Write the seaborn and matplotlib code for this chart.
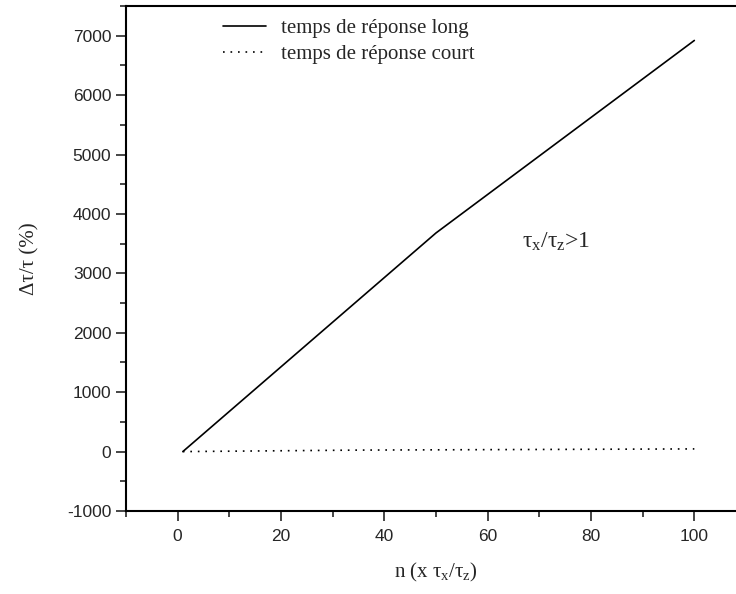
import numpy as np
import pandas as pd
import matplotlib
matplotlib.use('Agg')
import matplotlib.pyplot as plt
import seaborn as sns

# values
n_long = [1, 50, 100]
dt_long = [0, 3680, 6920]
n_court = [1, 35, 100]
dt_court = [0, 25, 45]
series_names = ['temps de réponse long', 'temps de réponse court']

df = pd.DataFrame({
    'n': n_long + n_court,
    'dt': dt_long + dt_court,
    'serie': [series_names[0]] * len(n_long) + [series_names[1]] * len(n_court),
})

sns.set_style('ticks')
plt.rcParams['font.family'] = ['Liberation Serif', 'DejaVu Serif']
plt.rcParams['mathtext.default'] = 'regular'
plt.rcParams['axes.unicode_minus'] = False

fig = plt.figure(figsize=(7.36, 5.94), dpi=100)
ax = fig.add_axes([126 / 736, 83 / 594, 620 / 736, 505 / 594])

sns.lineplot(data=df, x='n', y='dt', style='serie', color='black',
             dashes={series_names[0]: '', series_names[1]: (1, 3.5)},
             linewidth=1.2, ax=ax, legend=True)

handles, labels = ax.get_legend_handles_labels()
ax.legend(handles, labels, loc='upper left', bbox_to_anchor=(0.156, 0.975),
          frameon=False, fontsize=15, borderpad=0, borderaxespad=0,
          handlelength=2.1, handletextpad=0.7, labelspacing=0.3)

ax.set_xlim(-10, 110)
ax.set_ylim(-1000, 7500)
ax.set_xticks(range(0, 101, 20))
ax.set_xticks(range(-10, 111, 20), minor=True)
ax.set_yticks(range(-1000, 7001, 1000))
ax.set_yticks(range(-500, 7501, 1000), minor=True)

for lab in ax.get_xticklabels() + ax.get_yticklabels():
    lab.set_family('Liberation Sans')
    lab.set_fontsize(12.5)

ax.tick_params(which='major', length=7, width=1.2, direction='out')
ax.tick_params(which='minor', length=4, width=1.2, direction='out')
ax.tick_params(axis='x', pad=6)
ax.tick_params(axis='y', pad=3.5)
for side in ['left', 'bottom', 'top', 'right']:
    ax.spines[side].set_linewidth(1.5)
    ax.spines[side].set_color('black')

ax.set_xlabel('n (x τ$_x$/τ$_z$)', fontsize=15, labelpad=12)
ax.set_ylabel('Δτ/τ (%)', fontsize=15, labelpad=20)

ax.text(66.7, 3430, 'τ$_x$/τ$_z$>1', fontsize=17)

fig.savefig('out.png', dpi=100)
